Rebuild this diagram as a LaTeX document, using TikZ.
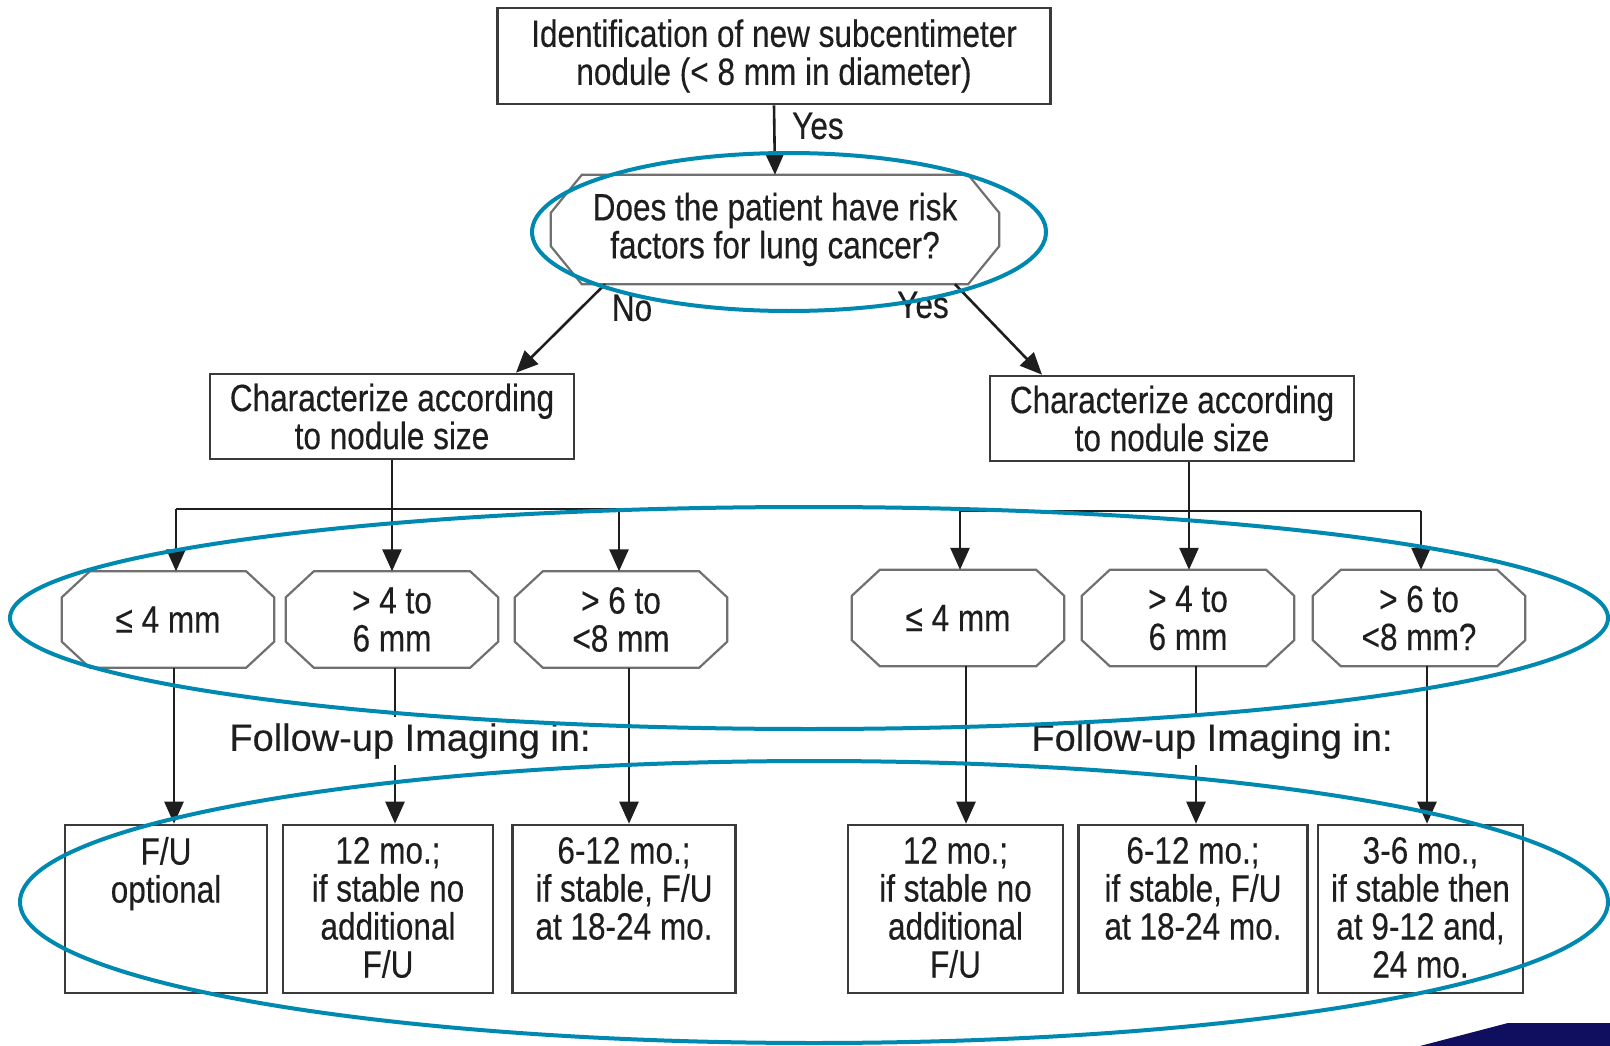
\documentclass[tikz,border=0pt]{standalone}
\usepackage{fontspec}
\setmainfont{Liberation Sans}[FakeStretch=0.83,FakeBold=0.3]
\newfontfamily\widesans{Liberation Sans}[FakeBold=0.3]
\usetikzlibrary{arrows.meta,calc}

\definecolor{boxline}{HTML}{3A3A3A}
\definecolor{octline}{HTML}{707070}
\definecolor{ink}{HTML}{1E1E1E}
\definecolor{ringblue}{HTML}{0089B0}
\definecolor{navy}{HTML}{100E5E}

% outline of a chamfered (octagonal) decision node: name, chamfer x, chamfer y
\newcommand\octframe[3]{%
  \draw[octedge] ([xshift=#2]#1.north west) -- ([xshift=-#2]#1.north east)
    -- ([yshift=-#3]#1.north east) -- ([yshift=#3]#1.south east)
    -- ([xshift=-#2]#1.south east) -- ([xshift=#2]#1.south west)
    -- ([yshift=#3]#1.south west) -- ([yshift=-#3]#1.north west) -- cycle;}

% top-aligned body of a follow-up box
\newcommand\fubody[1]{\parbox[c][144pt][t]{190pt}{\centering #1}}

\begin{document}
\begin{tikzpicture}[x=1pt,y=-1pt,
  txt/.style={font=\fontsize{38}{38}\selectfont, text=ink, align=center, inner sep=0pt},
  rbox/.style={txt, draw=boxline, line width=2.6pt},
  octbox/.style={txt, minimum width=212, minimum height=96},
  fubox/.style={rbox, minimum height=168},
  octedge/.style={draw=octline, line width=2.2pt, line join=miter},
  lbl/.style={txt},
  widelabel/.style={font=\widesans\fontsize{38}{38}\selectfont, text=ink, inner sep=0pt, minimum height=47},
  line/.style={draw=ink, line width=2.6pt},
  arr/.style={line, -{Triangle[length=22pt,width=19pt]}},
  ring/.style={draw=ringblue, line width=4pt},
]
% page
\fill[white] (0,0) rectangle (1610,1046);

% ---- nodes ----
\node[rbox, minimum width=553, minimum height=96] (top) at (774,56)
  {Identification of new subcentimeter\\nodule (< 8 mm in diameter)};
\node[txt, minimum width=448, minimum height=109] (q) at (775,229.5)
  {Does the patient have risk\\factors for lung cancer?};
\octframe{q}{31}{38}

\node[rbox, minimum width=364, minimum height=85] (c1) at (392,416.5)
  {Characterize according\\to nodule size};
\node[rbox, minimum width=364, minimum height=85] (c2) at (1172,418.5)
  {Characterize according\\to nodule size};

\node[octbox] (s1) at (168,619.5) {≤ 4 mm};
\node[octbox] (s2) at (392,619.5) {> 4 to\\6 mm};
\node[octbox] (s3) at (621,619.5) {> 6 to\\<8 mm};
\node[octbox] (s4) at (958,618) {≤ 4 mm};
\node[octbox] (s5) at (1188,618) {> 4 to\\6 mm};
\node[octbox] (s6) at (1419,618) {> 6 to\\<8 mm?};
\foreach \s in {s1,s2,s3,s4,s5,s6}{\octframe{\s}{28}{26}}

\node[fubox, minimum width=202] (b1) at (166,909) {\fubody{F/U\\optional}};
\node[fubox, minimum width=210] (b2) at (388,909) {\fubody{12 mo.;\\if stable no\\additional\\F/U}};
\node[fubox, minimum width=223] (b3) at (624,909) {\fubody{6-12 mo.;\\if stable, F/U\\at 18-24 mo.}};
\node[fubox, minimum width=215] (b4) at (955.5,909) {\fubody{12 mo.;\\if stable no\\additional\\F/U}};
\node[fubox, minimum width=229] (b5) at (1193,909) {\fubody{6-12 mo.;\\if stable, F/U\\at 18-24 mo.}};
\node[fubox, minimum width=205] (b6) at (1420.5,909) {\fubody{3-6 mo.,\\if stable then\\at 9-12 and,\\24 mo.}};

\node[widelabel] (fuL) at (410,741) {Follow-up Imaging in:};
\node[widelabel] (fuR) at (1212,741) {Follow-up Imaging in:};

% ---- connectors ----
\draw[arr] (top.south) -- (q.north);
\node[lbl, anchor=west] (yes1) at (792,126) {Yes};

\draw[arr] ([xshift=-170]q.south) -- ([xshift=124]c1.north);
\draw[arr] ([xshift=180]q.south) -- ([xshift=-130]c2.north);
\node[lbl] (no) at (632,308) {No};
\node[lbl] (yes2) at (923,305) {Yes};

% size branches, risk-free side
\coordinate (barL1) at (176,509);
\coordinate (barL3) at (619,509);
\draw[line] (barL1) -- (barL3);
\draw[arr] (barL1) -- (barL1 |- s1.north);
\draw[arr] (c1.south) -- (c1.south |- s2.north);
\draw[arr] (barL3) -- (barL3 |- s3.north);

% size branches, risk side
\coordinate (barR1) at (960,511);
\coordinate (barR3) at (1421,511);
\draw[line] (barR1) -- (barR3);
\draw[arr] (barR1) -- (barR1 |- s4.north);
\draw[arr] ([xshift=17]c2.south) -- ([xshift=17]c2.south |- s5.north);
\draw[arr] (barR3) -- (barR3 |- s6.north);

% follow-up arrows
\draw[arr] ([xshift=6]s1.south) -- ([xshift=6]s1.south |- b1.north);
\draw[line] ([xshift=3]s2.south) -- ([xshift=3]s2.south |- fuL.north);
\draw[arr] ([xshift=3]s2.south |- fuL.south) -- ([xshift=3]s2.south |- b2.north);
\draw[arr] ([xshift=8]s3.south) -- ([xshift=8]s3.south |- b3.north);
\draw[arr] ([xshift=8]s4.south) -- ([xshift=8]s4.south |- b4.north);
\draw[line] ([xshift=8]s5.south) -- ([xshift=8]s5.south |- fuR.north);
\draw[arr] ([xshift=8]s5.south |- fuR.south) -- ([xshift=8]s5.south |- b5.north);
\draw[arr] ([xshift=8]s6.south) -- ([xshift=8]s6.south |- b6.north);

% ---- highlight rings ----
\draw[ring] (789,232) ellipse [x radius=257, y radius=79];
\draw[ring] (809,618) ellipse [x radius=799, y radius=111];
\draw[ring] (814,902) ellipse [x radius=794, y radius=141];

% corner of the slide band
\fill[navy] (1420,1046) -- (1508,1023) -- (1610,1023) -- (1610,1046) -- cycle;
\end{tikzpicture}
\end{document}
